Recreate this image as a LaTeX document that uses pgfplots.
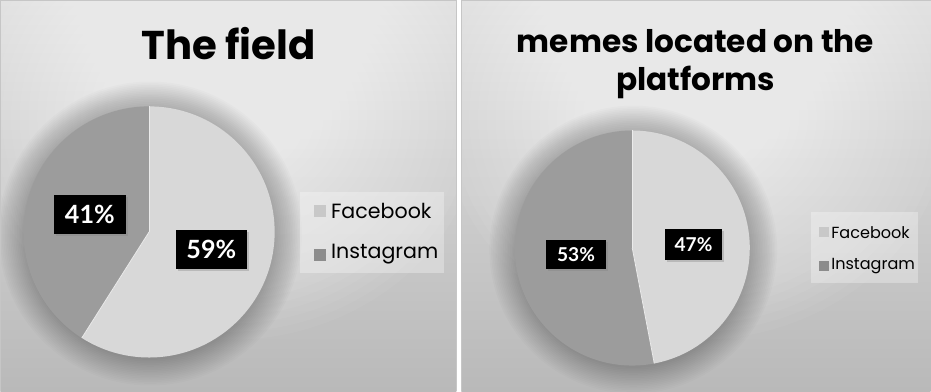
\documentclass[border=0pt]{standalone}
\usepackage{pgfplots}
\pgfplotsset{compat=1.18}
\usepackage{pgfplotstable}
\usepackage{fontspec}
\setmainfont{Poppins}
\newfontfamily\labfont{Lato}
\usetikzlibrary{shadows}

\definecolor{fbcol}{HTML}{D8D8D8}
\definecolor{igcol}{HTML}{9C9C9C}
\definecolor{fbsq}{HTML}{C8C8C8}
\definecolor{igsq}{HTML}{8C8C8C}
\definecolor{bgtop}{HTML}{E2E2E2}
\definecolor{bgbot}{HTML}{B9B9B9}

% shares in percent
\pgfplotstableread{
panel facebook instagram
1 59 41
2 47 53
}\shares

\begin{document}
\begin{tikzpicture}
\pgfplotstablegetelem{0}{facebook}\of\shares \let\fbA\pgfplotsretval
\pgfplotstablegetelem{0}{instagram}\of\shares \let\igA\pgfplotsretval
\pgfplotstablegetelem{1}{facebook}\of\shares \let\fbB\pgfplotsretval
\pgfplotstablegetelem{1}{instagram}\of\shares \let\igB\pgfplotsretval
\begin{axis}[width=931pt, height=393pt, scale only axis,
  xmin=0, xmax=931, ymin=0, ymax=393, y dir=reverse,
  hide axis, clip=false]
% backgrounds
\shade[top color=bgtop, bottom color=bgbot]
  (axis cs:5,4) rectangle (axis cs:459,393);
\shade[top color=bgtop, bottom color=bgbot]
  (axis cs:464,4) rectangle (axis cs:931,393);
\begin{scope}
\clip (axis cs:5,4) rectangle (axis cs:459,393);
\pgfplotsinvokeforeach{1,...,24}{
  \fill[white, opacity=0.045, overlay] (axis cs:232,120) ellipse[x radius={260pt-8.7pt*#1}, y radius={230pt-8pt*#1}];
}
\pgfplotsinvokeforeach{1,...,16}{
  \fill[black, opacity=0.016, overlay] (axis cs:154,236) circle[radius={124pt+1.7pt*#1}];
}
\end{scope}
\begin{scope}
\clip (axis cs:464,4) rectangle (axis cs:931,393);
\pgfplotsinvokeforeach{1,...,24}{
  \fill[white, opacity=0.045, overlay] (axis cs:697,120) ellipse[x radius={260pt-8.7pt*#1}, y radius={230pt-8pt*#1}];
}
\pgfplotsinvokeforeach{1,...,16}{
  \fill[black, opacity=0.016, overlay] (axis cs:635,252) circle[radius={116pt+1.7pt*#1}];
}
\end{scope}
\draw[gray!45, line width=0.8pt] (axis cs:5,393) -- (axis cs:5,4) -- (axis cs:459,4) -- (axis cs:459,393);
\draw[gray!45, line width=0.8pt] (axis cs:464,393) -- (axis cs:464,4) -- (axis cs:931,4);
% pie 1
\fill[fbcol] (axis cs:153,234.5) -- ++(90:125pt)
  arc[start angle=90, end angle={90-3.6*\fbA}, radius=125pt] -- cycle;
\fill[igcol] (axis cs:153,234.5) -- ++({90-3.6*\fbA}:125pt)
  arc[start angle={90-3.6*\fbA}, end angle=-270, radius=125pt] -- cycle;
\draw[white!92!black, line width=0.8pt] (axis cs:153,234.5) -- ++(90:125pt);
\draw[white!92!black, line width=0.8pt] (axis cs:153,234.5) -- ++({90-3.6*\fbA}:125pt);
% pie 2
\fill[fbcol] (axis cs:634,250.5) -- ++(90:117pt)
  arc[start angle=90, end angle={90-3.6*\fbB}, radius=117pt] -- cycle;
\fill[igcol] (axis cs:634,250.5) -- ++({90-3.6*\fbB}:117pt)
  arc[start angle={90-3.6*\fbB}, end angle=-270, radius=117pt] -- cycle;
\draw[white!92!black, line width=0.8pt] (axis cs:634,250.5) -- ++(90:117pt);
\draw[white!92!black, line width=0.8pt] (axis cs:634,250.5) -- ++({90-3.6*\fbB}:117pt);
% data labels
\tikzset{lab/.style={fill=black, text=white, inner sep=0pt, drop shadow={opacity=0.35, shadow xshift=2pt, shadow yshift=-2pt}}}
\node[lab, minimum width=71pt, minimum height=39pt, font=\labfont\bfseries\fontsize{25}{25}\selectfont] at (axis cs:215,252) {\fbA\%};
\node[lab, minimum width=72pt, minimum height=39pt, font=\labfont\bfseries\fontsize{25}{25}\selectfont] at (axis cs:94,217) {\igA\%};
\node[lab, minimum width=57pt, minimum height=30pt, font=\labfont\bfseries\fontsize{19}{19}\selectfont] at (axis cs:695,247) {\fbB\%};
\node[lab, minimum width=59pt, minimum height=29pt, font=\labfont\bfseries\fontsize{19}{19}\selectfont] at (axis cs:578,257) {\igB\%};
% titles
\node[font=\bfseries\fontsize{40}{44}\selectfont, anchor=center] at (axis cs:232,47) {The field};
\node[font=\bfseries\fontsize{31}{34}\selectfont, anchor=center] at (axis cs:697,45) {memes located on the};
\node[font=\bfseries\fontsize{31}{34}\selectfont, anchor=center] at (axis cs:697,86) {platforms};
% legends
\fill[white, opacity=0.3] (axis cs:303,195) rectangle (axis cs:447,275);
\fill[fbsq] (axis cs:317,208) rectangle (axis cs:329,220);
\fill[igsq] (axis cs:317,251) rectangle (axis cs:329,263);
\node[anchor=west, font=\fontsize{20.5}{22}\selectfont, inner sep=0pt] at (axis cs:334,214) {Facebook};
\node[anchor=west, font=\fontsize{20.5}{22}\selectfont, inner sep=0pt] at (axis cs:334,257) {Instagram};
\fill[white, opacity=0.3] (axis cs:812,215) rectangle (axis cs:918,285);
\fill[fbsq] (axis cs:820,230) rectangle (axis cs:830,240);
\fill[igsq] (axis cs:820,263) rectangle (axis cs:830,273);
\node[anchor=west, font=\fontsize{16}{17}\selectfont, inner sep=0pt] at (axis cs:832,235) {Facebook};
\node[anchor=west, font=\fontsize{16}{17}\selectfont, inner sep=0pt] at (axis cs:832,268) {Instagram};
\end{axis}
\end{tikzpicture}
\end{document}
